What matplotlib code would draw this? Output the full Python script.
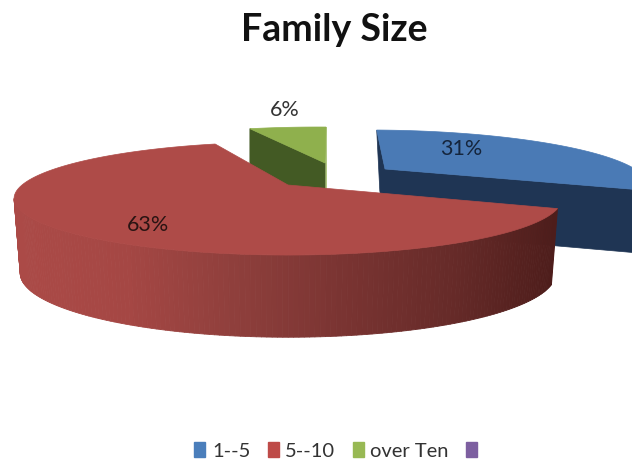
import matplotlib
matplotlib.use('Agg')
import matplotlib.pyplot as plt
from matplotlib.collections import PolyCollection
from matplotlib.colors import LinearSegmentedColormap
from matplotlib.patches import Patch
import numpy as np

plt.rcParams['font.family'] = ['Lato', 'DejaVu Sans']

# data
categories = ['1--5', '5--10', 'over Ten', '']
values = [31, 63, 6]
title = 'Family Size'

top_colors = ['#4a7ab5', '#ae4b48', '#8fb04d']
wall_colors = ['#1f3554', '#ae4b48', '#435a24']
legend_colors = ['#4a7ebb', '#be4b48', '#98b954', '#7d5fa0']
red_wall = LinearSegmentedColormap.from_list(
    'red_wall', ['#ab4a47', '#a54744', '#8f3f3c', '#7a3432', '#672b29', '#4e1d1b'])

START = 88     # first slice starts near 12 o'clock, then runs clockwise
K = 0.239      # perspective of the tilted disc


def project(theta, x0, y0, a, b, lean=0):
    t = np.radians(theta)
    x, y = np.cos(t), np.sin(t)
    s = 1 / (1 + K * y)
    return np.column_stack([x0 + a * x * s + lean * y * s, y0 - b * y * s])


def wedge(t1, t2, cam):
    arc = project(np.linspace(t1, t2, 120), *cam)
    return np.vstack([[cam[0], cam[1]], arc])


# slice angles from the values
total = sum(values)
edges = [START]
for v in values:
    edges.append(edges[-1] - 360 * v / total)
blue_a, blue_b = edges[0], edges[1]
red_a, red_b = edges[1], edges[2]
green_a, green_b = edges[2], edges[3]

# pixel layout of the exploded slices: x0, y0, a, b, lean
blue_top = (385, 169, 250, 48.3, -19)
blue_bot = (385, 231, 245, 50, -15)
red_top = (288, 185, 266, 53.3)
red_bot = (288, 258, 260, 60.3)
green_top = (325, 163, 253, 44.6, -7.6)
green_bot = (325, 223, 253, 44.6, -7.6)

fig = plt.figure(figsize=(6.32, 4.62), dpi=100)
ax = fig.add_axes([0, 0, 1, 1])
ax.set_xlim(0, 632)
ax.set_ylim(462, 0)
ax.axis('off')

# blue slice
pts_t = project(np.array([blue_a, blue_b]), *blue_top)
pts_b = project(np.array([blue_a, blue_b]), *blue_bot)
ax.fill([pts_t[0, 0], 385, 385, pts_b[0, 0]], [pts_t[0, 1], 169, 231, pts_b[0, 1]],
        color=wall_colors[0], lw=0.5, zorder=1)
ax.fill([385, pts_t[1, 0], pts_b[1, 0], 385], [169, pts_t[1, 1], pts_b[1, 1], 231],
        color=wall_colors[0], lw=0.5, zorder=1)
w = wedge(blue_a, blue_b, blue_top)
ax.fill(w[:, 0], w[:, 1], color=top_colors[0], lw=0.5, zorder=2)

# green slice
pts_t = project(np.array([green_a, green_b]), *green_top)
pts_b = project(np.array([green_a, green_b]), *green_bot)
ax.fill([pts_t[1, 0], 326, 326, pts_b[1, 0]], [pts_t[1, 1], 163, 223, pts_b[1, 1]],
        color=top_colors[2], lw=0.5, zorder=3)
ax.fill([pts_t[0, 0], 325, 325, pts_b[0, 0]], [pts_t[0, 1], 163, 223, pts_b[0, 1]],
        color=wall_colors[2], lw=0.5, zorder=3)
w = wedge(green_a, green_b, green_top)
ax.fill(w[:, 0], w[:, 1], color=top_colors[2], lw=0.5, zorder=4)

# red slice, the wall shaded from left to right
theta = np.linspace(193.8, 360 + red_a, 160)
wt = project(theta, *red_top)
wb = project(theta, *red_bot)
quads = [np.array([wt[i], wt[i + 1], wb[i + 1], wb[i]]) for i in range(len(theta) - 1)]
shade = (wt[:-1, 0] - wt[:, 0].min()) / np.ptp(wt[:, 0])
ax.add_collection(PolyCollection(quads, facecolors=red_wall(shade),
                                 edgecolors=red_wall(shade), linewidths=0.6, zorder=5))
w = wedge(red_a, red_b, red_top)
ax.fill(w[:, 0], w[:, 1], color=top_colors[1], lw=0.5, zorder=6)

# percent labels
ax.text(461, 149, f'{values[0]}%', ha='center', va='center', fontsize=15.5, color='#15253c', zorder=7)
ax.text(148, 225, f'{values[1]}%', ha='center', va='center', fontsize=15.5, color='#2a1413', zorder=7)
ax.text(285, 110, f'{values[2]}%', ha='center', va='center', fontsize=15.5, color='#333333', zorder=7)

ax.text(334.5, 30, title, ha='center', va='center', fontsize=27, fontweight='bold', color='#111111')

handles = [Patch(color=c, label=l) for c, l in zip(legend_colors, categories)]
ax.legend(handles=handles, ncol=4, frameon=False, loc='center', bbox_to_anchor=(339 / 632, 1 - 451 / 462),
          fontsize=14.5, handlelength=0.55, handleheight=0.7, handletextpad=0.33, columnspacing=0.85,
          labelcolor='#333333', borderpad=0, borderaxespad=0)

fig.savefig('out.png', dpi=100)
